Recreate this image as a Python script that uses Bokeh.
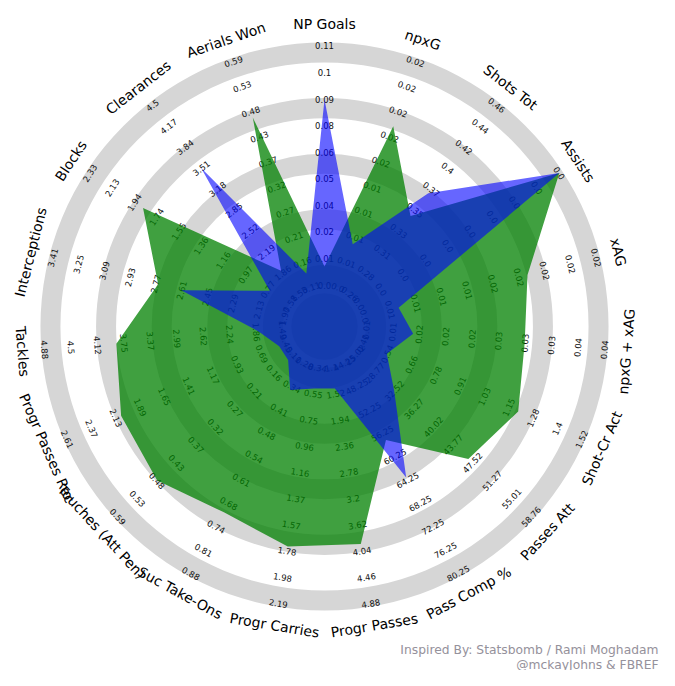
import numpy as np
from bokeh.plotting import figure
from bokeh.models import Range1d
from bokeh.embed import file_html
from bokeh.resources import INLINE
from bokeh.core.properties import value

# ---------------- data ----------------
params = ["NP Goals", "npxG", "Shots Tot", "Assists", "xAG", "npxG + xAG",
          "Shot-Cr Act", "Passes Att", "Pass Comp %", "Progr Passes",
          "Progr Carries", "Suc Take-Ons", "Touches (Att Pen)", "Progr Passes Rec",
          "Tackles", "Interceptions", "Blocks", "Clearances", "Aerials Won"]

range_min = [-0.002, 0.004, 0.2615, 0.0, 0.004, 0.009, 0.4125, 25.02, 44.25, 1.10,
             0.345, 0.2772, 0.106, 0.45, 1.487, 1.97, 0.578, 1.53, 0.106]
range_max = [0.114, 0.0245, 0.464, 0.004, 0.0245, 0.0387, 1.524, 58.764, 80.25, 4.88,
             2.188, 0.8766, 0.587, 2.61, 4.878, 3.41, 2.328, 4.5, 0.587]

player_green = [0.007, 0.0186, 0.345, 0.004, 0.0184, 0.0288, 1.203, 46.76, 57.45, 3.93,
                1.745, 0.703, 0.480, 2.082, 3.861, 2.754, 1.861, 1.893, 0.467]
player_blue = [0.088, 0.0079, 0.3695, 0.004, 0.0070, 0.0149, 0.536, 32.52, 63.85, 1.436,
               0.509, 0.354, 0.122, 0.522, 1.826, 2.61, 0.753, 3.51, 0.135]

endnote_lines = ["Inspired By: Statsbomb / Rami Moghadam", "@mckayJohns & FBREF"]

# ---------------- geometry ----------------
S = 16.6                      # pixels per radar unit
n = len(params)
step = 360.0 / n
theta = [np.deg2rad(90 - i * step) for i in range(n)]


def rotation(i):
    a = i * step
    rot = -a
    if 90 < a < 270:
        rot += 180
    return np.deg2rad(rot)


def radius_of(v, lo, hi):
    return (2.5 + 14.4 * (v - lo) / (hi - lo)) * S


p = figure(width=659, height=670, output_backend="svg", toolbar_location=None,
           x_range=Range1d(-324, 335), y_range=Range1d(-344, 326),
           min_border=0, outline_line_color=None, background_fill_color="white",
           border_fill_color="white")
p.axis.visible = False
p.grid.visible = False

# rings
ring_units = [3.35, 6.7, 10.05, 13.4, 16.75]
for ru in ring_units:
    rc = ru * S - 4
    p.annulus(x=0, y=0, inner_radius=rc - 10, outer_radius=rc + 10,
              fill_color="#D6D6D6", line_color=None)
# centre disc
p.circle(x=[0], y=[0], radius=2.0 * S, fill_color="#D6D6D6", line_color=None)

# range labels
rx, ry, rt, ra = [], [], [], []
for i in range(n):
    vals = np.linspace(range_min[i], range_max[i], 10)
    for k in range(10):
        r = (2.5 + 1.6 * k) * S
        rx.append(r * np.cos(theta[i]))
        ry.append(r * np.sin(theta[i]))
        rt.append(str(round(float(vals[k]), 2) + 0.0))
        ra.append(rotation(i))
p.text(x=rx, y=ry, text=rt, angle=ra, text_align="center", text_baseline="middle",
       text_font=value("DejaVu Sans"), text_font_size="8.5px", text_color="#111111")

# polygons
for vals, col, alpha in [(player_green, "#008000", 0.75), (player_blue, "#0000FF", 0.6)]:
    xs, ys = [], []
    for i in range(n):
        r = radius_of(vals[i], range_min[i], range_max[i])
        xs.append(r * np.cos(theta[i]))
        ys.append(r * np.sin(theta[i]))
    p.patch(xs, ys, fill_color=col, fill_alpha=alpha, line_color=None)

# parameter labels
lr = 303
p.text(x=[lr * np.cos(t) for t in theta], y=[lr * np.sin(t) for t in theta],
       text=params, angle=[rotation(i) for i in range(n)],
       text_align="center", text_baseline="middle",
       text_font=value("DejaVu Sans"), text_font_size="14px", text_color="#000000")

# endnote
p.text(x=[334, 334], y=[-330, -345], text=endnote_lines,
       text_align="right", text_baseline="bottom",
       text_font=value("DejaVu Sans"), text_font_size="12.3px", text_color="#95919B")

open("out.html", "w").write(file_html(p, INLINE))
